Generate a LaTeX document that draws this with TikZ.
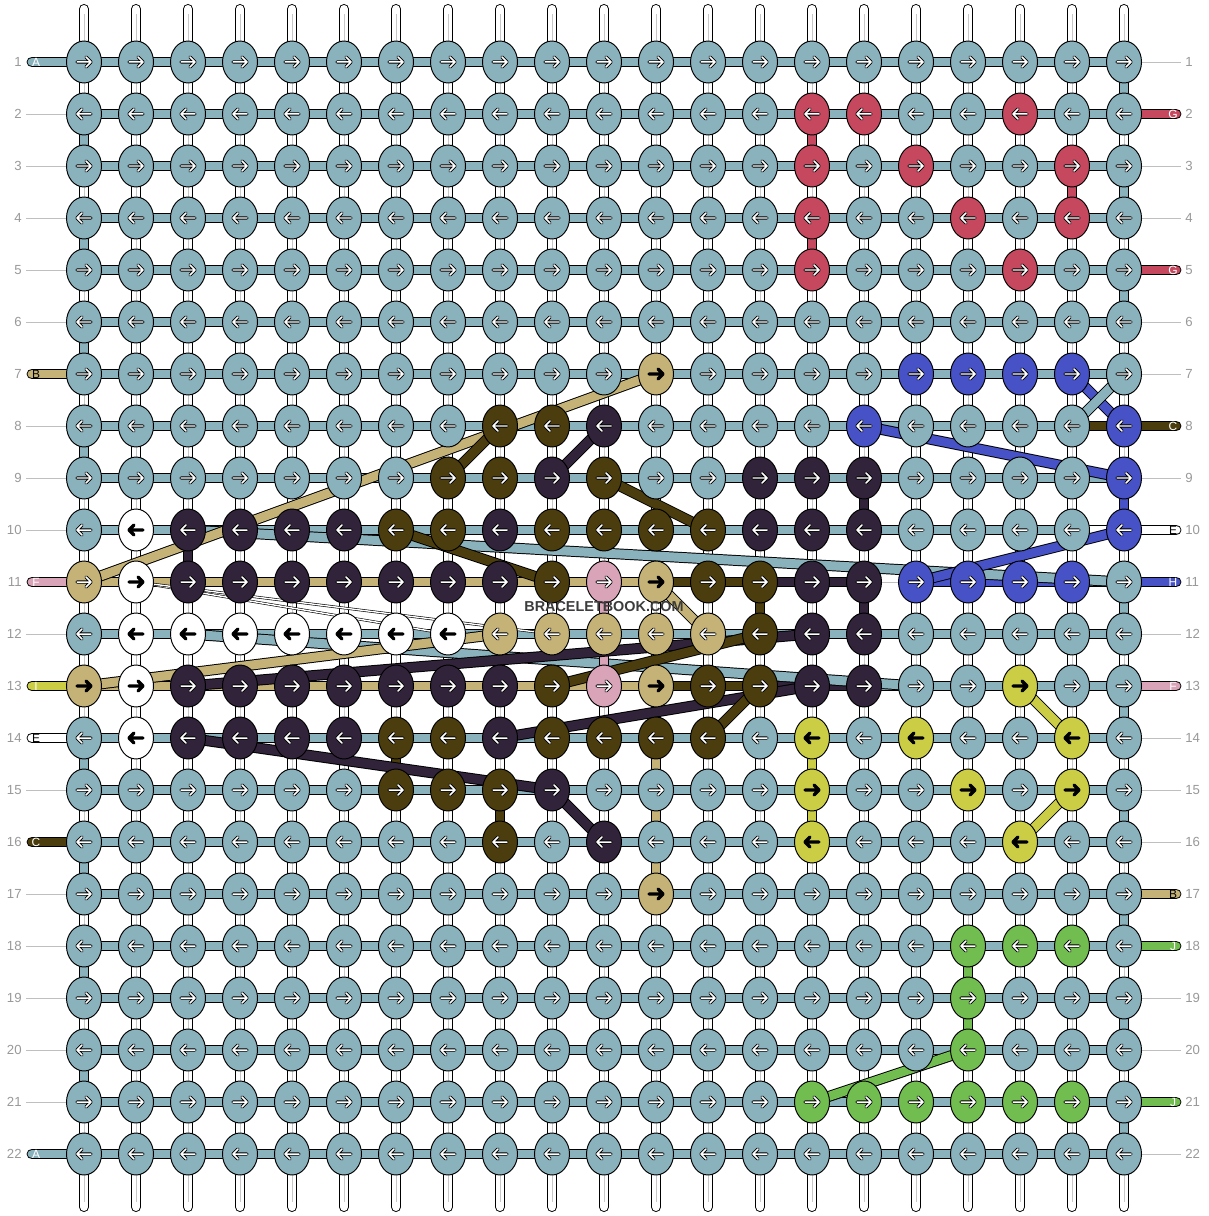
\documentclass[tikz,border=0pt]{standalone}
\usepackage{fontspec}
\setsansfont{Liberation Sans}
\usetikzlibrary{shapes.geometric}
\pgfdeclarelayer{paper}
\pgfdeclarelayer{vbars}
\pgfdeclarelayer{hbars}
\pgfdeclarelayer{floats}
\pgfsetlayers{paper,vbars,hbars,floats,main}

% thread colours, named after the string letters
\definecolor{cA}{HTML}{8AB2BD}
\definecolor{cB}{HTML}{C5B277}
\colorlet{cb}{cB}
\definecolor{cC}{HTML}{4B3D0D}
\definecolor{cD}{HTML}{30233A}
\definecolor{cE}{HTML}{FFFFFF}
\definecolor{cF}{HTML}{D9A3B8}
\definecolor{cG}{HTML}{C5485F}
\definecolor{cH}{HTML}{4652C6}
\definecolor{cI}{HTML}{CBCE45}
\definecolor{cJ}{HTML}{72BD4F}
\colorlet{aA}{white}\colorlet{aB}{white}\colorlet{ab}{black}\colorlet{aC}{white}
\colorlet{aD}{white}\colorlet{aE}{black}\colorlet{aF}{white}\colorlet{aG}{white}
\colorlet{aH}{white}\colorlet{aI}{black}\colorlet{aJ}{white}
\colorlet{tA}{white}\colorlet{tB}{black}\colorlet{tC}{white}\colorlet{tE}{black}
\colorlet{tF}{white}\colorlet{tG}{white}\colorlet{tH}{white}\colorlet{tI}{white}
\colorlet{tJ}{white}
\definecolor{wmgrey}{HTML}{3C3C3C}

\newcommand\knotrun[4]{\foreach \col in {#2,...,#3}{\expandafter\xdef\csname kc-#1-\col\endcsname{#4}}}
\newcommand\segrun[4]{\foreach \col in {#2,...,#3}{\expandafter\xdef\csname hs-#1-\col\endcsname{#4}}}

\begin{document}
\begin{tikzpicture}[x=0.02cm, y=-0.02cm,
  knot/.style={ellipse, draw=black, line width=0.55pt, fill=c#1,
    minimum width=0.7cm, minimum height=0.84cm, inner sep=0pt},
  strand/.style={draw=black, line width=0.55pt, double=#1, double distance=5.1pt},
  vstrand/.style={draw=black, line width=0.55pt, double=#1, double distance=4.6pt},
  thread/.style={draw=black, line width=0.35pt, double=#1, double distance=0.8pt},
  vbar/.style={draw=black, line width=0.55pt, double=white, double distance=4.6pt, line cap=round},
  vmid/.style={draw=black!22, line width=0.35pt},
  rule/.style={draw=black!25, line width=0.5pt},
  rownum/.style={font=\sffamily\fontsize{7.5}{8}\selectfont, text=black!40, inner sep=0pt},
  stubtxt/.style={font=\sffamily\fontsize{6.8}{7}\selectfont, inner sep=0pt}]

\begin{pgfonlayer}{paper}
  \fill[white] (0,0) rectangle (1208,1216);
\end{pgfonlayer}

% knot colours (teal where nothing is set)
\foreach \row/\col/\hue in {2/15/G,2/16/G,2/19/G,3/15/G,3/17/G,3/20/G,4/15/G,4/18/G,4/20/G,
  5/15/G,5/19/G,7/12/b,8/9/C,8/10/C,8/11/D,8/16/H,8/21/H,9/8/C,9/9/C,9/10/D,9/11/C,
  9/21/H,10/2/E,10/7/C,10/8/C,10/9/D,10/21/H,11/1/B,11/2/E,11/10/C,11/11/F,11/12/b,
  11/15/D,11/16/D,12/14/C,12/15/D,12/16/D,13/1/b,13/2/E,13/10/C,13/11/F,13/12/b,
  13/15/D,13/16/D,13/19/I,14/2/E,14/7/C,14/8/C,14/9/D,14/15/I,14/17/I,14/20/I,
  15/10/D,15/15/I,15/18/I,15/20/I,16/9/C,16/11/D,16/15/I,16/19/I,17/12/b,19/18/J,20/18/J}
  {\expandafter\xdef\csname kc-\row-\col\endcsname{\hue}}
\knotrun{7}{17}{20}{H}
\knotrun{9}{14}{16}{D}
\knotrun{10}{3}{6}{D}\knotrun{10}{10}{13}{C}\knotrun{10}{14}{16}{D}
\knotrun{11}{3}{9}{D}\knotrun{11}{13}{14}{C}\knotrun{11}{17}{20}{H}
\knotrun{12}{2}{8}{E}\knotrun{12}{9}{13}{B}
\knotrun{13}{3}{9}{D}\knotrun{13}{13}{14}{C}
\knotrun{14}{3}{6}{D}\knotrun{14}{10}{13}{C}
\knotrun{15}{7}{9}{C}
\knotrun{18}{18}{20}{J}
\knotrun{21}{15}{20}{J}
% colours of the row bars between knots
\segrun{8}{20}{20}{C}\segrun{10}{20}{20}{E}
\segrun{11}{1}{11}{B}\segrun{11}{12}{13}{C}\segrun{11}{14}{15}{D}\segrun{11}{16}{16}{N}\segrun{11}{17}{19}{H}
\segrun{13}{1}{11}{B}\segrun{13}{12}{13}{C}\segrun{13}{14}{15}{D}

\foreach \row in {1,...,22}{
  \foreach \col in {1,...,21}{
    \ifcsname kc-\row-\col\endcsname \edef\kc{\csname kc-\row-\col\endcsname}\else \def\kc{A}\fi
    \pgfmathsetmacro\x{84+52*(\col-1)}
    \pgfmathsetmacro\y{62+52*(\row-1)}
    \pgfmathsetmacro\dir{ifthenelse(isodd(\row),1,-1)}
    \node[knot=\kc] (k-\row-\col) at (\x,\y) {};
    \draw[black, line width=1.9pt, line cap=round, line join=round]
      ({\x-7*\dir},\y) -- ({\x+7*\dir},\y) ({\x+2*\dir},{\y-5}) -- ({\x+7*\dir},\y) -- ({\x+2*\dir},{\y+5});
    \draw[color=a\kc, line width=0.85pt, line cap=round, line join=round]
      ({\x-7*\dir},\y) -- ({\x+7*\dir},\y) ({\x+2*\dir},{\y-5}) -- ({\x+7*\dir},\y) -- ({\x+2*\dir},{\y+5});
  }
  \node[rownum, anchor=east] (nl-\row) at (22,{62+52*(\row-1)}) {\row};
  \node[rownum, anchor=west] (nr-\row) at (1185,{62+52*(\row-1)}) {\row};
}

\begin{pgfonlayer}{vbars}
  \foreach \col in {1,...,21}{
    \coordinate (vt-\col) at ({84+52*(\col-1)},9);
    \coordinate (vb-\col) at ({84+52*(\col-1)},1207);
    \draw[vbar] (vt-\col) -- (vb-\col);
    \draw[vmid] ([yshift=-0.1cm]vt-\col) -- ([yshift=0.1cm]vb-\col);
  }
\end{pgfonlayer}

\begin{pgfonlayer}{hbars}
  \foreach \row in {1,...,22}{
    \foreach \col [evaluate=\col as \nx using int(\col+1)] in {1,...,20}{
      \ifcsname hs-\row-\col\endcsname \edef\sg{\csname hs-\row-\col\endcsname}\else \def\sg{A}\fi
      \def\nobar{N}
      \ifx\sg\nobar
        \draw[rule] (k-\row-\col) -- (k-\row-\nx);
      \else
        \draw[strand=c\sg] (k-\row-\col.center) -- (k-\row-\nx.center);
      \fi
    }
  }
  % string ends
  \foreach \row/\hue in {1/A,7/B,11/F,13/I,14/E,16/C,22/A}{
    \coordinate (sl-\row) at (32,{62+52*(\row-1)});
    \draw[strand=c\hue, line cap=round] (sl-\row) -- (k-\row-1.center);
    \node[stubtxt, text=t\hue] (slt-\row) at (36,{62+52*(\row-1)}) {\hue};
  }
  \foreach \row/\hue in {2/G,5/G,8/C,10/E,11/H,13/F,17/B,18/J,21/J}{
    \coordinate (sr-\row) at (1176,{62+52*(\row-1)});
    \draw[strand=c\hue, line cap=round] (sr-\row) -- (k-\row-21.center);
    \node[stubtxt, text=t\hue] (srt-\row) at (1173,{62+52*(\row-1)}) {\hue};
  }
  \foreach \row in {2,3,4,5,6,8,9,10,12,15,17,18,19,20,21}{
    \coordinate (gl-\row) at (26,{62+52*(\row-1)});
    \draw[rule] (gl-\row) -- (k-\row-1);
  }
  \foreach \row in {1,3,4,6,7,9,12,14,15,16,19,20,22}{
    \coordinate (gr-\row) at (1181,{62+52*(\row-1)});
    \draw[rule] (k-\row-21) -- (gr-\row);
  }
\end{pgfonlayer}

\begin{pgfonlayer}{floats}
  \foreach \row [evaluate=\row as \nr using int(\row+1)] in {2,4,6,8,14,16,18,20}
    {\draw[vstrand=cA] (k-\row-1.center) -- (k-\nr-1.center);}
  \foreach \row [evaluate=\row as \nr using int(\row+1)] in {1,3,5,11,13,15,17,19,21}
    {\draw[vstrand=cA] (k-\row-21.center) -- (k-\nr-21.center);}
  \foreach \ri/\rj/\col/\hue in {2/3/15/G,4/5/15/G,3/4/20/G,9/10/21/H,9/10/16/D,11/12/16/D,
      10/11/3/D,11/12/14/C,14/15/7/C,15/16/9/C,14/15/15/I,15/16/15/I,18/19/18/J,19/20/18/J}
    {\draw[vstrand=c\hue] (k-\ri-\col.center) -- (k-\rj-\col.center);}
  % long floats behind the knots
  \foreach \ri/\ci/\rj/\cj/\hue in {10/3/11/21/A,12/3/13/17/A,11/1/7/12/B,9/8/8/9/C,9/10/8/11/D,
      9/11/10/13/C,10/7/11/10/C,8/16/9/21/H,7/20/8/21/H,7/21/8/20/A,10/21/11/17/H,
      13/1/12/9/B,11/12/12/13/B,13/12/17/12/B,11/11/13/11/F,13/3/12/15/D,13/10/12/14/C,
      14/9/13/15/D,14/13/13/14/C,14/3/15/10/D,15/10/16/11/D,13/19/14/20/I,15/20/16/19/I,
      20/18/21/15/J}
    {\draw[strand=c\hue] (k-\ri-\ci.center) -- (k-\rj-\cj.center);}
  \foreach \rj/\cj in {12/8,12/10}
    {\draw[thread=white] (k-11-2.center) -- (k-\rj-\cj.center);}
\end{pgfonlayer}

\node[font=\sffamily\bfseries\fontsize{8.2}{9}\selectfont, text=wmgrey, inner sep=0pt] (wm) at (604,607) {BRACELETBOOK.COM};
\end{tikzpicture}
\end{document}
